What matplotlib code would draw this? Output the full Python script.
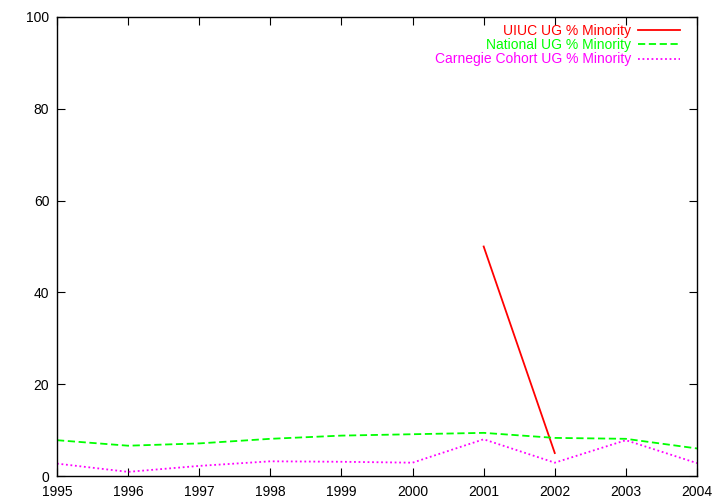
import matplotlib
matplotlib.use("Agg")
import matplotlib.pyplot as plt

# data
years = [1995, 1996, 1997, 1998, 1999, 2000, 2001, 2002, 2003, 2004]
uiuc_years = [2001, 2002]
uiuc = [50.0, 5.0]
national = [7.8, 6.6, 7.1, 8.1, 8.8, 9.1, 9.4, 8.3, 8.1, 6.0]
carnegie = [2.7, 0.9, 2.2, 3.2, 3.1, 2.9, 8.0, 2.9, 7.8, 2.8]

plt.rcParams['font.family'] = ['Liberation Sans', 'DejaVu Sans']

fig = plt.figure(figsize=(7.2, 5.04), dpi=100)
ax = fig.add_axes([57/720, 28/504, 640/720, 459/504])

ax.plot(uiuc_years, uiuc, color='#ff0000', lw=1.3, ls='-', label='UIUC UG % Minority')
ax.plot(years, national, color='#00ff00', lw=1.3, ls=(0, (4, 2)), label='National UG % Minority')
ax.plot(years, carnegie, color='#ff00ff', lw=1.3, ls=(0, (1, 1.5)), label='Carnegie Cohort UG % Minority')

ax.set_xlim(1995, 2004)
ax.set_ylim(0, 100)
ax.set_xticks(years)
ax.set_yticks(range(0, 101, 20))
ax.tick_params(direction='in', length=6, top=True, right=True, labelsize=10)
ax.tick_params(axis='y', pad=5.5)
ax.tick_params(axis='x', pad=6.5)
for s in ax.spines.values():
    s.set_linewidth(1)

leg = ax.legend(loc='upper right', frameon=False, markerfirst=False, fontsize=10,
                handlelength=3.0, labelspacing=0.03, handletextpad=0.5,
                borderaxespad=0.5, labelcolor='linecolor',
                bbox_to_anchor=(0.9925, 1.013))

fig.savefig('out.png', dpi=100)
